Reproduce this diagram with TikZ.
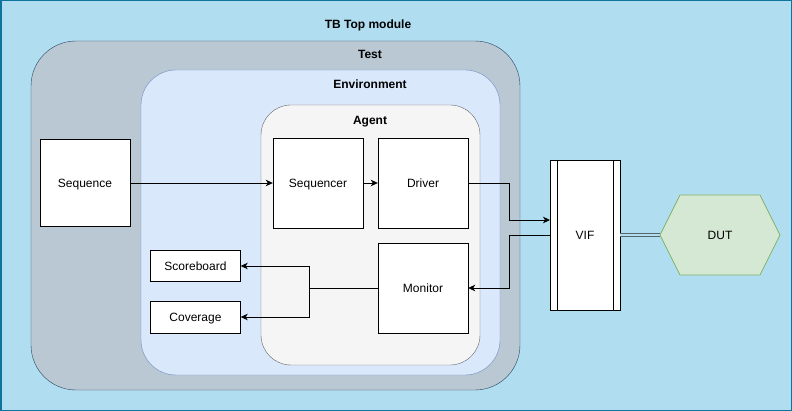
\documentclass[tikz,border=0pt]{standalone}
\usepackage{fontspec}
\setmainfont{Liberation Sans}
\usepackage{tikz}
\usetikzlibrary{arrows.meta}
\usetikzlibrary{positioning,calc}
\definecolor{topfill}{HTML}{B1DDF0}
\definecolor{topline}{HTML}{10739E}
\definecolor{testfill}{HTML}{BAC8D3}
\definecolor{testline}{HTML}{23445D}
\definecolor{envfill}{HTML}{DAE8FC}
\definecolor{envline}{HTML}{6C8EBF}
\definecolor{agentfill}{HTML}{F5F5F5}
\definecolor{agentline}{HTML}{666666}
\definecolor{dutfill}{HTML}{D5E8D4}
\definecolor{dutline}{HTML}{82B366}
\definecolor{linkline}{HTML}{56646C}
\tikzstyle{block} = [rectangle,
draw=black, fill=white,
minimum width=90pt,
minimum height=90pt, text centered,
inner sep=0pt]
\tikzstyle{smallblock} = [block, minimum height=32pt]
\tikzstyle{title} = [font=\fontsize{12}{14}\selectfont\bfseries, anchor=center]
\tikzstyle{arrow} = [->, line width=0.8pt]

\begin{document}
\begin{tikzpicture}[
    x=1pt, y=-1pt,
    >={Stealth[length=7pt, width=6.5pt, inset=2pt]},
    node distance=105pt, % distance between driver, sequencer and monitor
    font=\fontsize{12}{14}\selectfont,
    every node/.append style={text height=8.6pt, text depth=0pt},
  ]
    \useasboundingbox (0,0) rectangle (792,411);
    \draw[fill=topfill, draw=topline, line width=1.5pt] (0.75,0.75) rectangle (791.25,410.25);
    \node[title] (toptitle) at (368,24) {TB Top module};

    % nested containers
    \draw[fill=testfill, draw=testline, rounded corners=45pt] (31,41) rectangle (520,390);
    \node[title] (testtitle) at (370,54) {Test};
    \draw[fill=envfill, draw=envline, rounded corners=35pt] (141,70) rectangle (500,375);
    \node[title] (envtitle) at (370,84) {Environment};
    \draw[fill=agentfill, draw=agentline, rounded corners=30pt] (261,105) rectangle (480,365);
    \node[title] (agenttitle) at (370,120) {Agent};

    \node[block, minimum height=87pt] (seq)  at (85,183) {Sequence};
    \node[block]                      (sqr)  at (318,183) {Sequencer};
    \node[block, right of=sqr]        (drv)  {Driver};
    \node[block, below of=drv]        (mon)  {Monitor};

    \node[smallblock, minimum height=31pt] (scb) at (195.5,266) {Scoreboard};
    \node[smallblock]                      (cov) at (195.5,317) {Coverage};

    \node[block, minimum width=70pt, minimum height=150pt] (vif) at (585,235) {VIF};
    \draw ([xshift=7pt]vif.north west) -- ([xshift=7pt]vif.south west);
    \draw ([xshift=-7pt]vif.north east) -- ([xshift=-7pt]vif.south east);

    \draw[fill=dutfill, draw=dutline, line width=0.8pt]
      (660,235) -- (680,195) -- (760,195) -- (780,235) -- (760,275) -- (680,275) -- cycle;
    \node[minimum width=120pt, minimum height=80pt, inner sep=0pt] (dut) at (720,235) {DUT};

    \coordinate (drvbend) at (509,183);
    \coordinate (vifin)   at (550,220);
    \coordinate (vifout)  at (550,235);
    \coordinate (monbend) at (509,288);
    \coordinate (split)   at (309,288);

    \draw [arrow] (seq) -- (sqr);
    \draw [arrow] (sqr) -- (drv);
    \draw [arrow] (drv.east) -- (drvbend) |- (vifin);
    \draw [arrow] (vifout) -| (monbend) -- (mon.east);
    \draw [arrow] (mon.west) -- (split) |- (scb.east);
    \draw [arrow] (split) |- (cov.east);
    \draw [linkline, line width=0.9pt, double=topfill, double distance=2.2pt] (vif.east) -- (dut.west);
  \end{tikzpicture}
\end{document}
